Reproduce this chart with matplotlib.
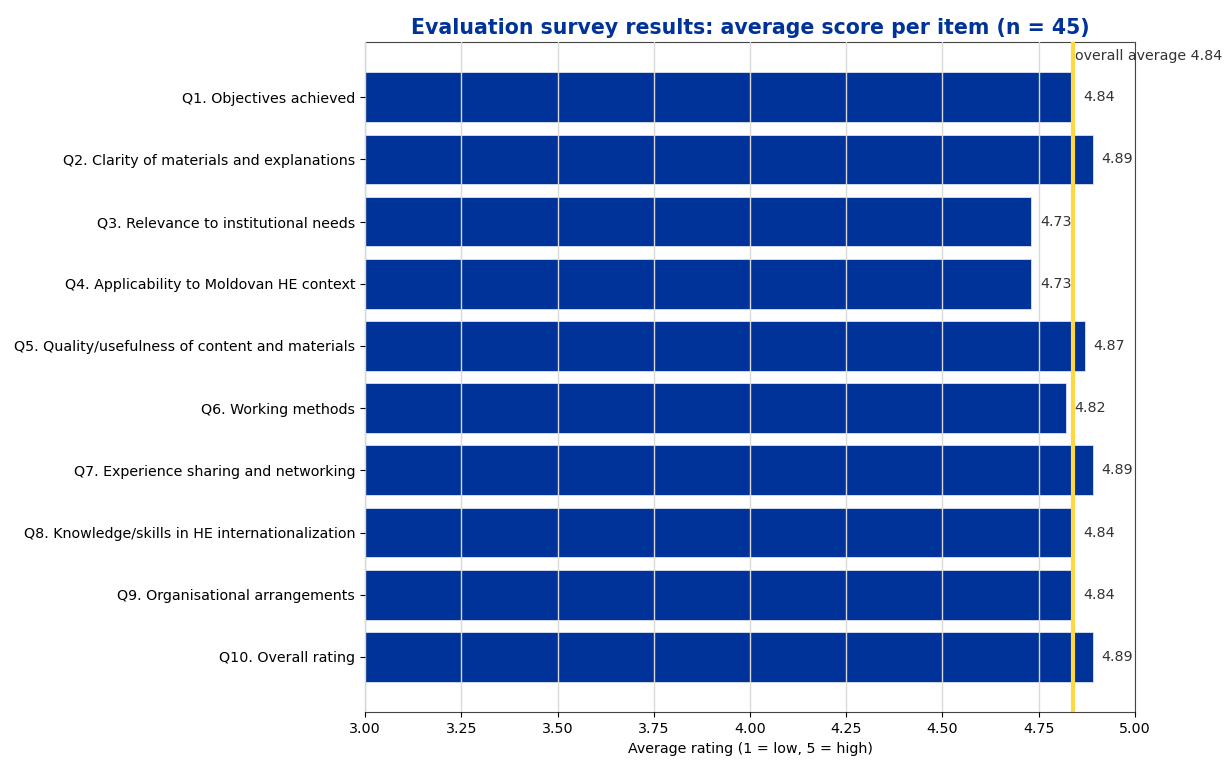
import matplotlib
matplotlib.use("Agg")
import matplotlib.pyplot as plt
import numpy as np

# Daten
items = [
    "Q1. Objectives achieved",
    "Q2. Clarity of materials and explanations",
    "Q3. Relevance to institutional needs",
    "Q4. Applicability to Moldovan HE context",
    "Q5. Quality/usefulness of content and materials",
    "Q6. Working methods",
    "Q7. Experience sharing and networking",
    "Q8. Knowledge/skills in HE internationalization",
    "Q9. Organisational arrangements",
    "Q10. Overall rating",
]
scores = [4.842, 4.89, 4.73, 4.73, 4.87, 4.82, 4.89, 4.842, 4.842, 4.89]
overall_avg = 4.84

BLUE = "#003399"
YELLOW = "#FFD740"
TEXT = "#333333"

fig, ax = plt.subplots(figsize=(12.27, 7.61), dpi=100)
fig.subplots_adjust(left=0.2975, right=0.925, top=0.945, bottom=0.064)

y = np.arange(len(items))
ax.barh(y, scores, height=0.8, color=BLUE, edgecolor="#dde4f0", linewidth=0.6, zorder=1)
ax.set_yticks(y)
ax.set_yticklabels(items, fontsize=10.3)
ax.invert_yaxis()

ax.set_xlim(3.0, 5.0)
ticks = np.arange(3.0, 5.01, 0.25)
ax.set_xticks(ticks)
ax.set_xticklabels([f"{t:.2f}" for t in ticks], fontsize=10.3)
ax.grid(True, axis="x", color="#d9d9d9", linewidth=1, zorder=2)
ax.set_axisbelow(False)

ax.axvline(overall_avg, color=YELLOW, linewidth=3, zorder=3)
ax.text(overall_avg + 0.005, -0.66, f"overall average {overall_avg:.2f}",
        fontsize=10.3, color=TEXT, ha="left", va="center", zorder=4)

# Werte rechts neben den Balken
for yi, v in zip(y, scores):
    ax.text(v + 0.023, yi, f"{v:.2f}", fontsize=10.3, color=TEXT,
            ha="left", va="center", zorder=4)

ax.set_xlabel("Average rating (1 = low, 5 = high)", fontsize=10.3)
ax.set_title("Evaluation survey results: average score per item (n = 45)",
             fontsize=14.8, fontweight="bold", color=BLUE, pad=6)

for s in ax.spines.values():
    s.set_color("#444444")

fig.savefig("out.png", dpi=100)
